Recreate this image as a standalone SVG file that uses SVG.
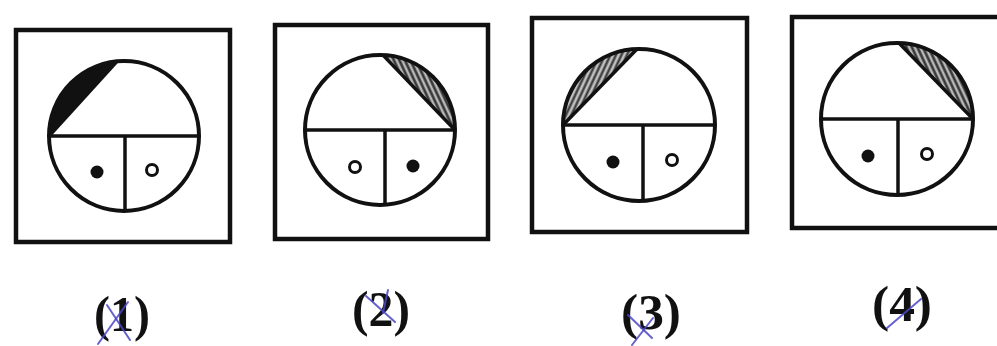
<svg xmlns="http://www.w3.org/2000/svg" width="997" height="346" viewBox="0 0 997 346">
<defs>
<pattern id="hatchA" patternUnits="userSpaceOnUse" width="5" height="5" patternTransform="rotate(-25)">
<rect width="5" height="5" fill="#b8b8b8"/>
<line x1="1.5" y1="0" x2="1.5" y2="5" stroke="#2e2e2e" stroke-width="2.4"/>
</pattern>
<pattern id="hatchB" patternUnits="userSpaceOnUse" width="5" height="5" patternTransform="rotate(25)">
<rect width="5" height="5" fill="#c0c0c0"/>
<line x1="1.5" y1="0" x2="1.5" y2="5" stroke="#333" stroke-width="2.2"/>
</pattern>
</defs>
<style>
.box{fill:none;stroke:#111;stroke-width:4.5}
.face{fill:none;stroke:#111;stroke-width:4}
.ln{stroke:#111;stroke-width:3.5;fill:none}
.dot{fill:#111}
.ring{fill:#fff;stroke:#111;stroke-width:3}
.lbl{font-family:"Liberation Serif","Times New Roman",serif;font-size:50px;font-weight:bold;fill:#111}
.pen{stroke:#4a47c8;stroke-width:2;fill:none;stroke-linecap:round;opacity:0.85}
</style>
<rect width="997" height="346" fill="#fff"/>

<g id="fig1">
<rect class="box" x="16" y="30" width="214" height="212"/>
<path d="M49,136 A75,75 0 0 1 117,61.3 Z" fill="#111" stroke="#111" stroke-width="2"/>
<circle class="face" cx="124" cy="136" r="75"/>
<line class="ln" x1="49" y1="136" x2="199" y2="136"/>
<line class="ln" x1="125" y1="136" x2="125" y2="211"/>
<line class="ln" x1="49" y1="136" x2="117" y2="61.3"/>
<circle class="dot" cx="97" cy="172" r="6.5"/>
<circle class="ring" cx="152" cy="170" r="5.5"/>
</g>

<g id="fig2">
<rect class="box" x="275" y="25" width="213" height="214"/>
<path d="M383,55.1 A75,75 0 0 1 455,130 Z" fill="url(#hatchA)" stroke="#111" stroke-width="1.5"/>
<circle class="face" cx="380" cy="130" r="75"/>
<line class="ln" x1="305" y1="130" x2="455" y2="130"/>
<line class="ln" x1="385" y1="130" x2="385" y2="205"/>
<line class="ln" x1="383" y1="55.1" x2="455" y2="130"/>
<circle class="ring" cx="355" cy="167" r="5.5"/>
<circle class="dot" cx="413" cy="166" r="6.5"/>
</g>

<g id="fig3">
<rect class="box" x="532" y="18" width="215" height="214"/>
<path d="M563,125 A76,76 0 0 1 637,49 Z" fill="url(#hatchB)" stroke="#111" stroke-width="1.5"/>
<circle class="face" cx="639" cy="125" r="76"/>
<line class="ln" x1="563" y1="125" x2="715" y2="125"/>
<line class="ln" x1="643" y1="125" x2="643" y2="201"/>
<line class="ln" x1="563" y1="125" x2="637" y2="49"/>
<circle class="dot" cx="613" cy="162" r="6.5"/>
<circle class="ring" cx="672" cy="160" r="5.5"/>
</g>

<g id="fig4">
<rect class="box" x="792" y="17" width="215" height="211"/>
<path d="M899,43 A76,76 0 0 1 973,119 Z" fill="url(#hatchA)" stroke="#111" stroke-width="1.5"/>
<circle class="face" cx="897" cy="119" r="76"/>
<line class="ln" x1="821" y1="119" x2="973" y2="119"/>
<line class="ln" x1="898" y1="119" x2="898" y2="195"/>
<line class="ln" x1="899" y1="43" x2="973" y2="119"/>
<circle class="dot" cx="868" cy="156" r="6.5"/>
<circle class="ring" cx="927" cy="154" r="5.5"/>
</g>

<g id="labels">
<text class="lbl" x="122" y="331" text-anchor="middle" textLength="56" lengthAdjust="spacingAndGlyphs">(1)</text>
<text class="lbl" x="381" y="326" text-anchor="middle" textLength="58" lengthAdjust="spacingAndGlyphs">(2)</text>
<text class="lbl" x="651" y="329" text-anchor="middle" textLength="60" lengthAdjust="spacingAndGlyphs">(3)</text>
<text class="lbl" x="902" y="321" text-anchor="middle" textLength="60" lengthAdjust="spacingAndGlyphs">(4)</text>
</g>

<g id="pen-marks">
<path class="pen" d="M98,344 L128,302"/>
<path class="pen" d="M107,305 L130,340"/>
<path class="pen" d="M366,296 L395,322"/>
<path class="pen" d="M388,290 L383,313"/>
<path class="pen" d="M632,345 L653,318"/>
<path class="pen" d="M628,315 L652,338"/>
<path class="pen" d="M887,328 L921,299"/>
</g>
</svg>
